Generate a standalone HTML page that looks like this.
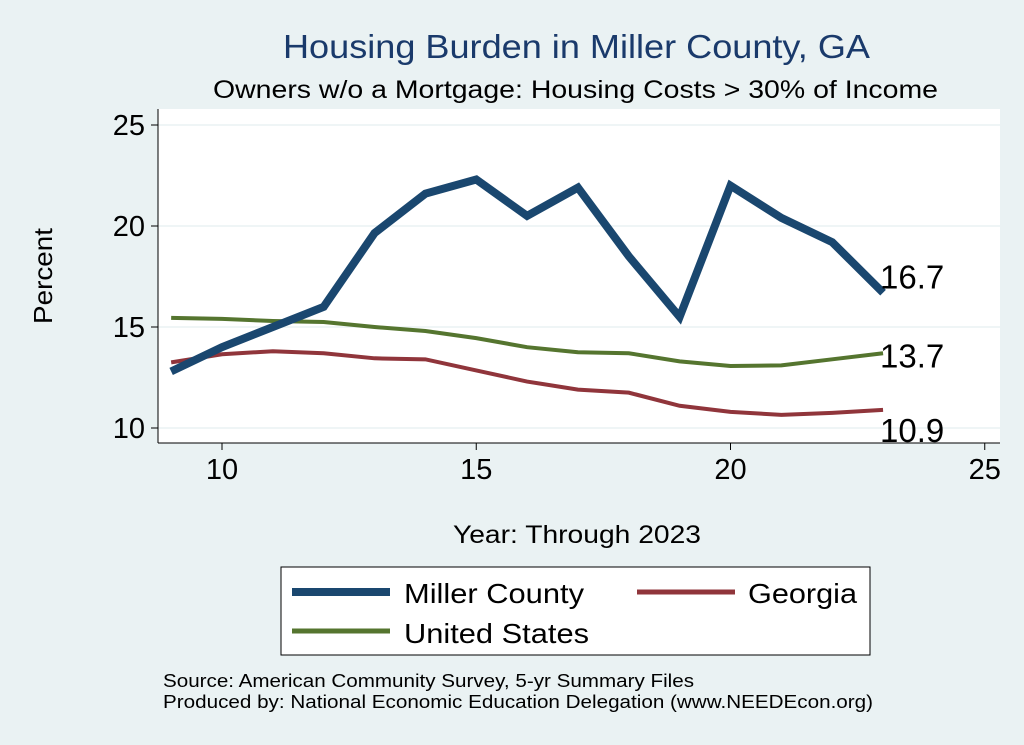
<!DOCTYPE html>
<html><head><meta charset="utf-8"><style>
body{margin:0;background:#eaf2f3;font-family:"Liberation Sans",sans-serif;}
svg{display:block}
</style></head><body>
<svg id="c" width="1024" height="745" xmlns="http://www.w3.org/2000/svg">
<rect width="1024" height="745" fill="#eaf2f3"/>
<rect x="158" y="109" width="842" height="334" fill="#ffffff"/>
<text x="283" y="58" font-size="33" fill="#1a3a6b" textLength="587" lengthAdjust="spacingAndGlyphs">Housing Burden in Miller County, GA</text>
<text x="213" y="98" font-size="25" fill="#000" textLength="725" lengthAdjust="spacingAndGlyphs">Owners w/o a Mortgage: Housing Costs &gt; 30% of Income</text>
<g id="grid"></g>
<g id="axes"></g>
<g id="series"></g>
<text x="52" y="276" font-size="26" text-anchor="middle" textLength="96" lengthAdjust="spacingAndGlyphs" transform="rotate(-90 52 276)">Percent</text>
<text x="453" y="543" font-size="25" textLength="248" lengthAdjust="spacingAndGlyphs">Year: Through 2023</text>
<g>
<rect x="281" y="567" width="589" height="88" fill="#fff" stroke="#000" stroke-width="1"/>
<g><line x1="292" y1="592" x2="390" y2="592" stroke="#1a476f" stroke-width="8"/><text x="404" y="603" font-size="28" textLength="180" lengthAdjust="spacingAndGlyphs">Miller County</text></g>
<g><line x1="637" y1="592" x2="735" y2="592" stroke="#90353b" stroke-width="5"/><text x="748" y="603" font-size="28" textLength="109" lengthAdjust="spacingAndGlyphs">Georgia</text></g>
<g><line x1="292" y1="631" x2="390" y2="631" stroke="#55752f" stroke-width="5"/><text x="404" y="643" font-size="28" textLength="185" lengthAdjust="spacingAndGlyphs">United States</text></g>
</g>
<text x="163" y="687" font-size="18" textLength="531" lengthAdjust="spacingAndGlyphs">Source: American Community Survey, 5-yr Summary Files</text>
<text x="163" y="708" font-size="18" textLength="710" lengthAdjust="spacingAndGlyphs">Produced by: National Economic Education Delegation (www.NEEDEcon.org)</text>
</svg>
<script>
const years=[9,10,11,12,13,14,15,16,17,18,19,20,21,22,23];
const miller=[12.8,14.0,15.0,16.0,19.65,21.6,22.3,20.5,21.9,18.5,15.5,22.0,20.4,19.2,16.7];
const us=[15.45,15.4,15.3,15.25,15.0,14.8,14.45,14.0,13.75,13.7,13.3,13.07,13.1,13.4,13.7];
const georgia=[13.25,13.65,13.8,13.7,13.45,13.4,12.85,12.3,11.9,11.75,11.1,10.8,10.65,10.75,10.9];
const xTicks=[10,15,20,25];
const yTicks=[10,15,20,25];
const NS="http://www.w3.org/2000/svg";
const X=v=>222+(v-10)*50.85;
const Y=v=>428-(v-10)*20.2;
function mk(t,a,p){const e=document.createElementNS(NS,t);for(const k in a)e.setAttribute(k,a[k]);p.appendChild(e);return e;}
const grid=document.getElementById('grid'),axes=document.getElementById('axes'),ser=document.getElementById('series');
mk('line',{x1:158,y1:443,x2:1000,y2:443,stroke:'#000','stroke-width':1},axes);
mk('line',{x1:158,y1:109,x2:158,y2:443,stroke:'#000','stroke-width':1},axes);
yTicks.forEach(v=>{
 const g=mk('line',{x1:158,y1:Y(v),x2:1000,y2:Y(v),stroke:'#eaf2f3','stroke-width':1.5},grid);
 
 
 mk('line',{x1:151,y1:Y(v),x2:158,y2:Y(v),stroke:'#000'},axes);
 const t=mk('text',{x:145,y:Y(v)+10,'font-size':29,'text-anchor':'end'},axes);t.textContent=v;
 
 
});
xTicks.forEach(v=>{
 mk('line',{x1:X(v),y1:443,x2:X(v),y2:450,stroke:'#000'},axes);
 const t=mk('text',{x:X(v),y:479,'font-size':29,'text-anchor':'middle'},axes);t.textContent=v;
 
 
});
function line(vals,color,w,name){
 const p=mk('polyline',{points:years.map((y,i)=>X(y)+','+Y(vals[i])).join(' '),fill:'none',stroke:color,'stroke-width':w,'stroke-linejoin':'miter'},ser);
 
 
}
line(us,'#55752f',4,'line-united-states');
line(georgia,'#90353b',4,'line-georgia');
line(miller,'#1a476f',8,'line-miller-county');
const lx=X(years[years.length-1]);
[[miller,-4],[us,14],[georgia,32]].forEach(([s,dy])=>{
 const v=s[s.length-1];
 const t=mk('text',{x:lx-3,y:Y(v)+dy,'font-size':33},ser);
 t.textContent=v.toFixed(1);
 
 
});
</script>
</body></html>
